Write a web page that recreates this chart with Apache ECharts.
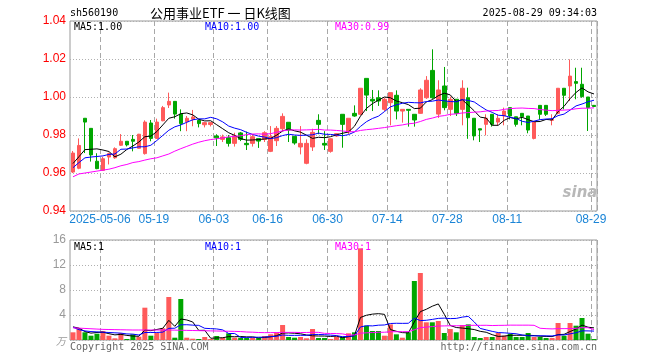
<!DOCTYPE html>
<html><head><meta charset="utf-8">
<script src="https://cdn.jsdelivr.net/npm/echarts@6/dist/echarts.min.js"></script>
<style>html,body{margin:0;padding:0;background:#fff}#c{width:660px;height:360px}</style>
</head><body><div id="c"></div>
<script>
// ---------- data ----------
const dates = [
 '2025-04-24','2025-04-25','2025-04-28','2025-04-29','2025-04-30',
 '2025-05-06','2025-05-07','2025-05-08','2025-05-09','2025-05-12','2025-05-13','2025-05-14','2025-05-15','2025-05-16',
 '2025-05-19','2025-05-20','2025-05-21','2025-05-22','2025-05-23','2025-05-26','2025-05-27','2025-05-28','2025-05-29','2025-05-30',
 '2025-06-03','2025-06-04','2025-06-05','2025-06-06','2025-06-09','2025-06-10','2025-06-11','2025-06-12','2025-06-13',
 '2025-06-16','2025-06-17','2025-06-18','2025-06-19','2025-06-20','2025-06-23','2025-06-24','2025-06-25','2025-06-26','2025-06-27',
 '2025-06-30','2025-07-01','2025-07-02','2025-07-03','2025-07-04','2025-07-07','2025-07-08','2025-07-09','2025-07-10','2025-07-11',
 '2025-07-14','2025-07-15','2025-07-16','2025-07-17','2025-07-18','2025-07-21','2025-07-22','2025-07-23','2025-07-24','2025-07-25',
 '2025-07-28','2025-07-29','2025-07-30','2025-07-31','2025-08-01','2025-08-04','2025-08-05','2025-08-06','2025-08-07','2025-08-08',
 '2025-08-11','2025-08-12','2025-08-13','2025-08-14','2025-08-15','2025-08-18','2025-08-19','2025-08-20','2025-08-21','2025-08-22',
 '2025-08-25','2025-08-26','2025-08-27','2025-08-28','2025-08-29'
];
const open = [
 0.9605,0.9625,0.9888,0.9835,0.9662,0.9614,0.9684,0.9680,0.9746,0.9767,
 0.9777,0.9730,0.9702,0.9863,0.9782,0.9875,0.9958,0.9977,0.9910,0.9870,
 0.9883,0.9877,0.9854,0.9855,0.9795,0.9777,0.9786,0.9756,0.9811,0.9756,
 0.9756,0.9781,0.9777,0.9714,0.9770,0.9833,0.9867,0.9793,0.9737,0.9651,
 0.9737,0.9877,0.9756,0.9714,0.9795,0.9909,0.9816,0.9914,0.9909,1.0098,
 0.9988,0.9996,0.9935,0.9970,1.0009,0.9926,0.9935,0.9909,0.9914,0.9996,
 1.0140,0.9910,1.0058,0.9935,0.9988,0.9935,0.9996,0.9888,0.9833,0.9856,
 0.9909,0.9868,0.9900,0.9944,0.9896,0.9914,0.9900,0.9782,0.9956,0.9956,
 0.9877,0.9914,1.0046,1.0058,1.0081,1.0067,1.0000,0.9956
];
const close = [
 0.9705,0.9745,0.9868,0.9695,0.9623,0.9675,0.9702,0.9728,0.9767,0.9748,
 0.9767,0.9804,0.9868,0.9782,0.9868,0.9944,0.9977,0.9910,0.9860,0.9888,
 0.9895,0.9860,0.9865,0.9865,0.9785,0.9790,0.9756,0.9795,0.9777,0.9749,
 0.9791,0.9768,0.9812,0.9791,0.9835,0.9898,0.9826,0.9758,0.9756,0.9756,
 0.9814,0.9856,0.9747,0.9780,0.9807,0.9856,0.9888,0.9900,1.0046,1.0010,
 0.9979,0.9979,0.9988,1.0023,0.9926,0.9935,0.9930,0.9879,1.0037,1.0088,
 0.9996,1.0037,0.9944,0.9988,0.9914,1.0046,0.9891,0.9795,0.9826,0.9888,
 0.9856,0.9888,0.9926,0.9900,0.9856,0.9896,0.9826,0.9870,0.9909,0.9909,
 0.9882,1.0046,1.0009,1.0110,1.0072,1.0002,0.9944,0.9950
];
const low = [
 0.9600,0.9620,0.9705,0.9660,0.9620,0.9612,0.9645,0.9675,0.9742,0.9740,
 0.9714,0.9728,0.9697,0.9767,0.9780,0.9872,0.9942,0.9886,0.9820,0.9820,
 0.9846,0.9840,0.9840,0.9845,0.9742,0.9763,0.9739,0.9739,0.9768,0.9721,
 0.9739,0.9732,0.9763,0.9710,0.9742,0.9820,0.9763,0.9749,0.9698,0.9646,
 0.9716,0.9804,0.9721,0.9707,0.9790,0.9733,0.9804,0.9896,0.9904,0.9926,
 0.9926,0.9953,0.9926,0.9851,0.9882,0.9865,0.9844,0.9844,0.9912,0.9990,
 0.9990,0.9890,0.9930,0.9900,0.9900,0.9851,0.9780,0.9772,0.9763,0.9798,
 0.9844,0.9851,0.9851,0.9882,0.9844,0.9851,0.9809,0.9777,0.9882,0.9900,
 0.9851,0.9909,0.9935,0.9979,0.9988,0.9996,0.9821,0.9948
];
const high = [
 0.9716,0.9782,0.9888,0.9835,0.9704,0.9685,0.9707,0.9735,0.9805,0.9767,
 0.9800,0.9806,0.9877,0.9879,0.9886,0.9953,1.0023,0.9977,0.9935,0.9900,
 0.9932,0.9882,0.9868,0.9868,0.9804,0.9802,0.9800,0.9812,0.9816,0.9818,
 0.9802,0.9781,0.9820,0.9847,0.9847,0.9914,0.9867,0.9793,0.9847,0.9777,
 0.9833,0.9909,0.9820,0.9782,0.9810,0.9909,0.9888,0.9956,1.0046,1.0098,
 1.0037,1.0035,0.9996,1.0023,1.0035,0.9935,0.9935,0.9909,1.0046,1.0110,
 1.0251,1.0088,1.0158,1.0002,0.9988,1.0088,1.0049,0.9888,0.9833,0.9909,
 0.9909,0.9909,0.9944,0.9944,0.9896,0.9914,0.9900,0.9870,0.9956,0.9956,
 0.9909,1.0046,1.0046,1.0198,1.0154,1.0154,1.0000,0.9958
];
// volume, unit: 万
const volume = [
 1.23,1.87,1.23,0.69,1.01,1.44,0.69,0.27,1.12,0.16,
 0.91,0.53,5.17,0.69,1.12,1.87,6.88,0.37,6.56,0.37,
 0.21,0.16,0.48,0.16,0.64,0.37,1.07,0.37,0.37,0.32,
 0.37,0.32,0.64,0.91,1.23,2.40,0.48,0.37,0.48,0.27,
 1.76,0.32,0.32,0.16,0.53,0.53,1.07,1.23,14.67,2.29,
 1.44,1.44,0.69,2.50,0.91,0.37,1.23,9.44,10.72,2.83,
 2.83,3.04,1.12,1.76,1.23,2.40,2.50,0.48,0.32,0.48,
 0.48,1.12,0.69,1.01,0.48,0.48,1.12,0.48,0.48,0.32,
 0.32,2.72,0.69,2.72,2.29,3.52,1.01,0.16
];
// moving-average values before a full window exists
const ma5Head  = [0.9650,0.9686,0.9723,0.9725];
const ma10Head = [0.9628,0.9655,0.9680,0.9684,0.9687,0.9690,0.9698,0.9700,0.9725];
const ma30Head = [0.9580,0.9595,0.9600,0.9605,0.9610,0.9615,0.9620,0.9628,0.9638,0.9645,
                  0.9655,0.9660,0.9668,0.9675,0.9680,0.9690,0.9700,0.9715,0.9728,0.9740,
                  0.9752,0.9762,0.9770,0.9776,0.9780,0.9785,0.9790,0.9793,0.9796];
const vma5Head  = [2.10,1.90,1.35,1.10];
const vma10Head = [2.05,1.65,1.45,1.35,1.30,1.25,1.20,1.15,1.10];
const vma30Head = [1.95,1.90,1.85,1.80,1.75,1.70,1.68,1.66,1.64,1.62,
                   1.60,1.60,1.60,1.60,1.60,1.60,1.60,1.58,1.56,1.54,
                   1.52,1.50,1.48,1.46,1.44,1.42,1.40,1.38,1.35];
const tickLabels = ['2025-05-06','05-19','06-03','06-16','06-30','07-14','07-28','08-11','08-29'];
const priceTicks = [0.94,0.96,0.98,1.00,1.02,1.04];
const volTicks = [0,4,12,8,16];
const titleCode = 'sh560190';
const titleText = '公用事业ETF 一 日K线图';
const timeText = '2025-08-29 09:34:03';
const maLabels = ['MA5:1.00','MA10:1.00','MA30:0.99'];
const volMaLabels = ['MA5:1','MA10:1','MA30:1'];
const volUnit = '万';
// ------------------------------------------------------------

const UP = '#ff5a5a', DOWN = '#00a600';
const MA_COLORS = ['#000000','#0000ff','#ff00ff'];
const MONO = '10px "DejaVu Sans Mono", monospace';

function movingAvg(src, n, head) {
  return src.map((v, i) => {
    if (i < n - 1) return head[i];
    let s = 0;
    for (let j = i - n + 1; j <= i; j++) s += src[j];
    return +(s / n).toFixed(4);
  });
}
const isTick = (v) => tickLabels.some(t => String(v).endsWith(t));
const tickLabel = (v) => tickLabels.find(t => String(v).endsWith(t)) || '';

const ma5 = movingAvg(close, 5, ma5Head);
const ma10 = movingAvg(close, 10, ma10Head);
const ma30 = movingAvg(close, 30, ma30Head);
const vma5 = movingAvg(volume, 5, vma5Head);
const vma10 = movingAvg(volume, 10, vma10Head);
const vma30 = movingAvg(volume, 30, vma30Head);

const candles = dates.map((d, i) => [open[i], close[i], low[i], high[i]]);
const volBars = dates.map((d, i) => ({
  value: volume[i],
  itemStyle: { color: close[i] >= open[i] ? UP : DOWN }
}));

const GL = 70, GR = 63;
const splitV = { show: true, interval: (i, v) => isTick(v), lineStyle: { color: '#a8a8a8', type: [5, 3], width: 1 } };
const splitH = { show: true, lineStyle: { color: '#b0b0b0', type: [1, 2], width: 1 } };

function lineSeries(data, color, xi, yi) {
  return { type: 'line', data, xAxisIndex: xi, yAxisIndex: yi, symbol: 'none', showSymbol: false,
    lineStyle: { color, width: 1 }, itemStyle: { color }, silent: true, z: 5, animation: false };
}
function txt(x, y, text, fill, opt) {
  return Object.assign({ type: 'text', x, y, silent: true, z: 100,
    style: Object.assign({ text, fill, font: MONO, align: 'left', verticalAlign: 'middle' }, opt || {}) });
}

const option = {
  animation: false,
  backgroundColor: '#ffffff',
  grid: [
    { left: GL, right: GR, top: 21, height: 190, show: true, borderColor: '#999', borderWidth: 1, outerBoundsMode: 'none', containLabel: false },
    { left: GL, right: GR, top: 240, height: 100, show: true, borderColor: '#999', borderWidth: 1, outerBoundsMode: 'none', containLabel: false }
  ],
  xAxis: [
    { type: 'category', gridIndex: 0, data: dates, boundaryGap: true,
      axisLine: { show: false }, axisTick: { show: false },
      axisLabel: { interval: (i, v) => isTick(v), formatter: (v) => tickLabel(v), color: '#1a84d6',
        font: MONO, margin: 3, padding: [0, 6, 0, 0], hideOverlap: false },
      splitLine: splitV },
    { type: 'category', gridIndex: 1, data: dates, boundaryGap: true,
      axisLine: { show: false }, axisTick: { show: false }, axisLabel: { show: false },
      splitLine: splitV }
  ],
  yAxis: [
    { type: 'value', gridIndex: 0, min: priceTicks[0], max: priceTicks[priceTicks.length - 1], interval: 0.02,
      axisLine: { show: false }, axisTick: { show: false },
      axisLabel: { color: '#ff0000', font: MONO, margin: 4, formatter: (v) => v.toFixed(2) },
      splitLine: splitH },
    { type: 'value', gridIndex: 1, min: 0, max: 16, interval: 4,
      axisLine: { show: false }, axisTick: { show: false },
      axisLabel: { color: '#999999', font: MONO, margin: 4, formatter: (v) => (v === 0 ? '' : String(v)) },
      splitLine: splitH }
  ],
  series: [
    { type: 'candlestick', xAxisIndex: 0, yAxisIndex: 0, data: candles, barWidth: 4, z: 3,
      itemStyle: { color: UP, color0: DOWN, borderColor: UP, borderColor0: DOWN, borderWidth: 1 }, silent: true },
    lineSeries(ma5, MA_COLORS[0], 0, 0),
    lineSeries(ma10, MA_COLORS[1], 0, 0),
    lineSeries(ma30, MA_COLORS[2], 0, 0),
    { type: 'bar', xAxisIndex: 1, yAxisIndex: 1, data: volBars, barWidth: 5, z: 3, silent: true },
    lineSeries(vma5, MA_COLORS[0], 1, 1),
    lineSeries(vma10, MA_COLORS[1], 1, 1),
    lineSeries(vma30, MA_COLORS[2], 1, 1)
  ],
  graphic: [
    txt(70, 13, titleCode, '#000'),
    txt(150, 13, titleText, '#000', { font: '13px "Noto Sans CJK SC", sans-serif' }),
    txt(597, 13, timeText, '#000', { align: 'right' }),
    txt(74, 27, maLabels[0], MA_COLORS[0]),
    txt(205, 27, maLabels[1], MA_COLORS[1]),
    txt(335, 27, maLabels[2], MA_COLORS[2]),
    txt(74, 247, volMaLabels[0], MA_COLORS[0]),
    txt(205, 247, volMaLabels[1], MA_COLORS[1]),
    txt(335, 247, volMaLabels[2], MA_COLORS[2]),
    txt(66, 341, volUnit, '#999', { align: 'right', font: 'italic 10px "Noto Sans CJK SC", sans-serif' }),
    txt(70, 347, 'Copyright 2025 SINA.COM', '#666'),
    txt(597, 347, 'http://finance.sina.com.cn', '#666', { align: 'right' }),
    txt(580, 193, 'sina', '#b8b8b8', { align: 'center', font: 'italic bold 15px "DejaVu Sans", sans-serif' })
  ]
};

const chart = echarts.init(document.getElementById('c'), null, { renderer: 'canvas', width: 660, height: 360 });
chart.setOption(option);
</script></body></html>
